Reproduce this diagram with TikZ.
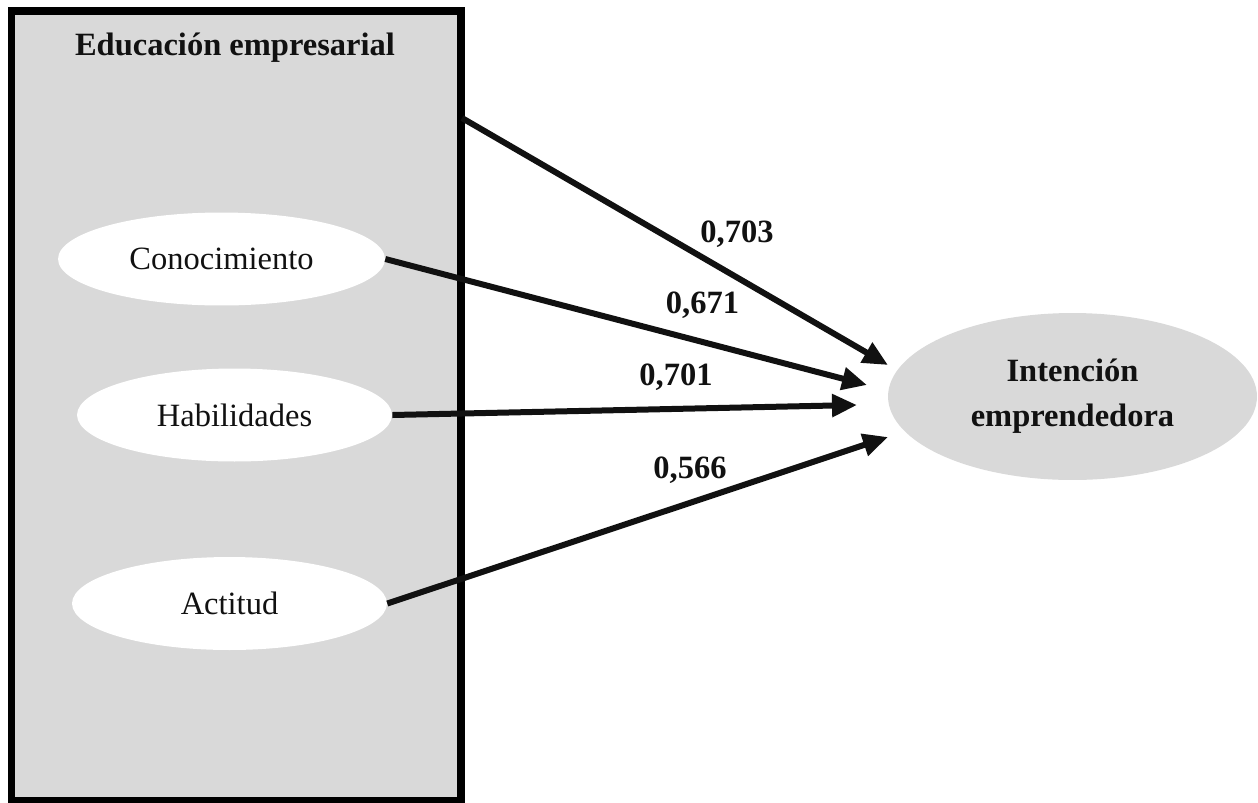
\documentclass[tikz,border=0pt]{standalone}
\usepackage{fontspec}
\setmainfont{Liberation Serif}
\usetikzlibrary{arrows.meta,shapes.geometric}
\definecolor{boxgray}{HTML}{D9D9D9}
\definecolor{inkblack}{HTML}{111111}

\begin{document}
\begin{tikzpicture}[
		x=0.02cm, y=-0.02cm,
		every node/.style={font=\fontsize{18.5pt}{25.6pt}\selectfont, text=inkblack},
		bold/.style={font=\fontsize{18.5pt}{25.6pt}\selectfont\bfseries},
		factor/.style={ellipse, fill=white, inner sep=0pt, minimum width=6.3cm, minimum height=1.86cm},
		path/.style={line width=0.12cm, draw=inkblack, -{Triangle[length=0.5cm, width=0.44cm]}}
	]
  \useasboundingbox (0,0) rectangle (1258,802);
  \node (edu) [rectangle, draw=black, line width=0.15cm, fill=boxgray, minimum width=8.99cm, minimum height=15.8cm, inner sep=0pt] at (236.25,406) {};
  \node (edu_title) [bold, anchor=base] at (235,55) {Educación empresarial};
  \node (con) [factor, minimum width=6.54cm] at (221.5,259) {Conocimiento};
  \node (hab) [factor] at (234.5,415) {Habilidades};
  \node (act) [factor] at (229.5,603.5) {Actitud};
  \node (int) [ellipse, fill=boxgray, bold, align=center, inner sep=0pt, minimum width=7.38cm, minimum height=3.34cm] at (1072.5,396.5) {Intención\\emprendedora};
  \coordinate (edu_out) at (462,118);
  \coordinate (t_edu) at (888,365);
  \coordinate (t_con) at (867,385);
  \coordinate (t_hab) at (857,405);
  \coordinate (t_act) at (888,437);
  \draw [path] (edu_out) -- (t_edu);
  \draw [path] (con.east) -- (t_con);
  \draw [path] (hab.east) -- (t_hab);
  \draw [path] (act.east) -- (t_act);
  \node (w_edu) [bold, anchor=base] at (737,242) {0,703};
  \node (w_con) [bold, anchor=base] at (702.5,313) {0,671};
  \node (w_hab) [bold, anchor=base] at (676,385) {0,701};
  \node (w_act) [bold, anchor=base] at (690,478) {0,566};
\end{tikzpicture}
\end{document}
